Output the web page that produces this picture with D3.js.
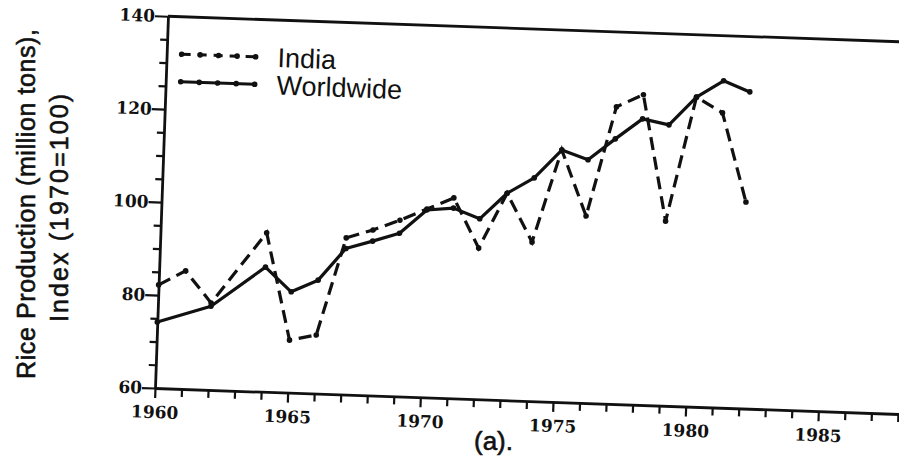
<!DOCTYPE html>
<html>
<head>
<meta charset="utf-8">
<script src="https://cdn.jsdelivr.net/npm/d3@7"></script>
<style>
body { margin: 0; background: #fff; }
svg { display: block; }
</style>
</head>
<body>
<svg width="899" height="462"></svg>
<script>
// values
var indiaYears = [1960, 1961, 1962, 1964, 1965, 1966, 1967, 1968, 1969, 1970, 1971,
                  1972, 1973, 1974, 1975, 1976, 1977, 1978, 1979, 1980, 1981, 1982];
var indiaValues = [82.2, 85.4, 78.7, 94.2, 71.3, 72.6, 93.7, 95.6, 97.9, 100.5, 103.1,
                   92.5, 104.5, 94.2, 114.2, 100.2, 123.9, 126.7, 99.7, 126.6, 123.4, 104.4];

var worldYears = [1960, 1962, 1964, 1965, 1966, 1967, 1968, 1969, 1970, 1971,
                  1972, 1973, 1974, 1975, 1976, 1977, 1978, 1979, 1980, 1981, 1982];
var worldValues = [74.2, 78.0, 86.8, 81.7, 84.4, 91.4, 93.2, 95.1, 100.3, 100.9,
                   98.8, 104.5, 108.0, 114.2, 112.3, 117.0, 121.5, 120.4, 126.6, 130.3, 128.1];

var xTicks = d3.range(1960, 1990);
var yTicks = d3.range(60, 141, 5);
var seriesNames = ["India", "Worldwide"];

var svg = d3.select("svg");
var ink = "#111";

var x = d3.scaleLinear().domain([1960, 1990]).range([155, 155 + 30 * 26.55]);
var y = d3.scaleLinear().domain([60, 140]).range([388, 16]);

// the scan is tilted about 2 degrees
var g = svg.append("g").attr("transform", "rotate(2,155,388)");

// x axis
var xAxis = g.append("g")
    .attr("transform", "translate(0," + y(60) + ")")
    .call(d3.axisBottom(x)
        .tickValues(xTicks)
        .tickSize(8)
        .tickSizeOuter(0)
        .tickFormat(function(d) { return d % 5 === 0 ? d : ""; }));
xAxis.select(".domain").attr("stroke", ink).attr("stroke-width", 2.8);
xAxis.selectAll(".tick line")
    .attr("stroke", ink).attr("stroke-width", 2.2)
    .attr("y2", function(d) { return d % 5 === 0 ? 10 : 8; });
xAxis.selectAll(".tick text")
    .attr("y", 18)
    .attr("fill", ink)
    .attr("font-family", "'DejaVu Serif'")
    .attr("font-weight", "bold")
    .attr("font-size", 17);

// y axis
var yAxis = g.append("g")
    .attr("transform", "translate(" + x(1960) + ",0)")
    .call(d3.axisLeft(y)
        .tickValues(yTicks)
        .tickSize(7)
        .tickSizeOuter(0)
        .tickFormat(function(d) { return d % 20 === 0 ? d : ""; }));
yAxis.select(".domain").attr("stroke", ink).attr("stroke-width", 2.8);
yAxis.selectAll(".tick line")
    .attr("stroke", ink).attr("stroke-width", 2.2)
    .attr("x2", function(d) { return d % 20 === 0 ? -13 : -7; });
yAxis.selectAll(".tick text")
    .attr("x", -13)
    .attr("fill", ink)
    .attr("font-family", "'DejaVu Serif'")
    .attr("font-weight", "bold")
    .attr("font-size", 17);

// top frame line
g.append("line")
    .attr("x1", x(1960)).attr("x2", x(1990))
    .attr("y1", y(140)).attr("y2", y(140))
    .attr("stroke", ink).attr("stroke-width", 2.8);

var india = indiaYears.map(function(d, i) { return [d, indiaValues[i]]; });
var world = worldYears.map(function(d, i) { return [d, worldValues[i]]; });

var line = d3.line()
    .x(function(d) { return x(d[0]); })
    .y(function(d) { return y(d[1]); });

g.append("path")
    .datum(world)
    .attr("d", line)
    .attr("fill", "none")
    .attr("stroke", ink)
    .attr("stroke-width", 3.2)
    .attr("stroke-linejoin", "round");

g.append("path")
    .datum(india)
    .attr("d", line)
    .attr("fill", "none")
    .attr("stroke", ink)
    .attr("stroke-width", 3.2)
    .attr("stroke-dasharray", "13,7");

g.selectAll(".pt")
    .data(world.concat(india))
    .enter().append("circle")
    .attr("class", "pt")
    .attr("cx", function(d) { return x(d[0]); })
    .attr("cy", function(d) { return y(d[1]); })
    .attr("r", 2.8)
    .attr("fill", ink);

// legend
var legend = g.append("g");
var rows = [{name: seriesNames[0], y: 53.5, dash: "9,7"},
            {name: seriesNames[1], y: 81, dash: null}];
rows.forEach(function(r) {
    legend.append("line")
        .attr("x1", 170).attr("x2", 244)
        .attr("y1", r.y).attr("y2", r.y)
        .attr("stroke", ink).attr("stroke-width", 3)
        .attr("stroke-dasharray", r.dash);
    legend.selectAll(null)
        .data(d3.range(5))
        .enter().append("circle")
        .attr("cx", function(i) { return 170 + i * 18.5; })
        .attr("cy", r.y)
        .attr("r", 2.8)
        .attr("fill", ink);
    legend.append("text")
        .attr("x", 266).attr("y", r.y + 9.5)
        .attr("fill", ink)
        .style("font", "27px 'Liberation Sans'")
        .text(r.name);
});

// y title (not tilted)
svg.append("text")
    .attr("transform", "translate(35,204) rotate(-90)")
    .attr("text-anchor", "middle")
    .attr("textLength", 350)
    .attr("lengthAdjust", "spacing")
    .attr("fill", ink)
    .attr("stroke", ink)
    .attr("stroke-width", 0.6)
    .style("font", "25px 'Liberation Sans'")
    .text("Rice Production (million tons),");
svg.append("text")
    .attr("transform", "translate(68,208) rotate(-90)")
    .attr("text-anchor", "middle")
    .attr("textLength", 228)
    .attr("lengthAdjust", "spacing")
    .attr("fill", ink)
    .attr("stroke", ink)
    .attr("stroke-width", 0.6)
    .style("font", "25px 'Liberation Sans'")
    .text("Index (1970=100)");

svg.append("text")
    .attr("x", 474).attr("y", 450)
    .attr("fill", ink)
    .attr("stroke", ink)
    .attr("stroke-width", 0.6)
    .style("font", "26px 'Liberation Sans'")
    .text("(a).");
</script>
</body>
</html>
